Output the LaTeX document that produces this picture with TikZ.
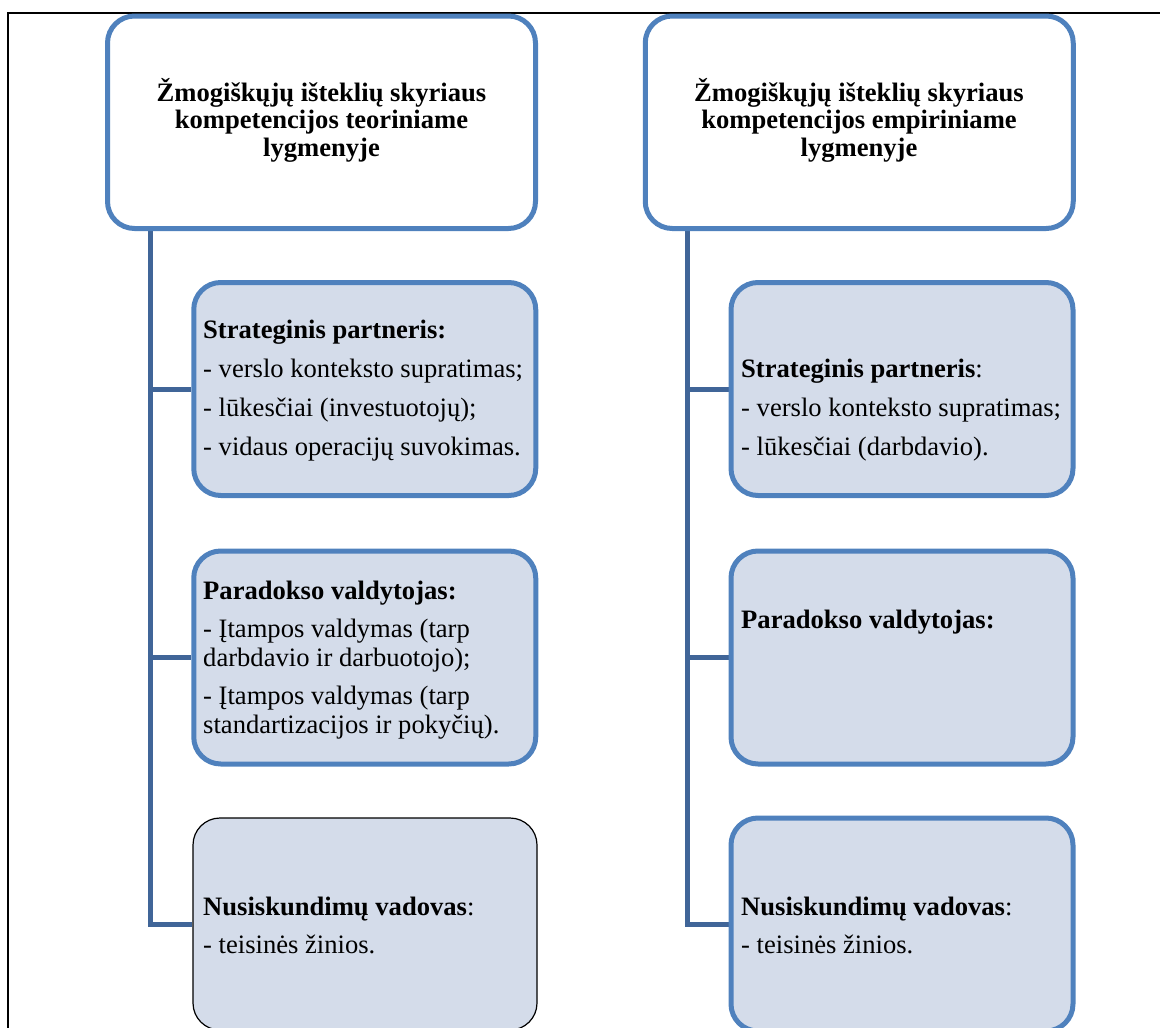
\documentclass[tikz,border=0pt]{standalone}
\usepackage{fontspec}
\setmainfont{Liberation Serif}
\usetikzlibrary{calc,backgrounds}
\definecolor{boxblue}{RGB}{79,129,189}
\definecolor{spineblue}{RGB}{64,101,152}
\definecolor{boxfill}{RGB}{212,220,234}
\tikzset{
  headbox/.style={draw=boxblue, line width=5pt, fill=white, rounded corners=27pt,
    minimum width=428pt, minimum height=212.5pt, inner sep=0pt},
  childbox/.style={draw=boxblue, line width=5pt, fill=boxfill, rounded corners=27pt,
    minimum width=342pt, minimum height=213pt, inner sep=0pt},
  childboxthin/.style={draw=black, line width=1.2pt, fill=boxfill, rounded corners=27pt,
    minimum width=344pt, minimum height=212pt, inner sep=0pt},
  spine/.style={draw=spineblue, line width=5pt, line join=miter},
  headtext/.style={font=\fontsize{26.6}{27.5}\selectfont\bfseries, align=center, anchor=base, inner sep=0pt},
  bodytext/.style={font=\fontsize{26.6}{29}\selectfont, align=left, anchor=base west, inner sep=0pt},
}
\begin{document}
\begin{tikzpicture}[x=1pt, y=-1pt]
\useasboundingbox (0,0) rectangle (1160,1028);
\clip (0,0) rectangle (1160,1028);
% frame
\draw[black, line width=1.5pt] (8,1030) -- (8,13) -- (1162,13);

% spine coordinates
\coordinate (ls) at (150.5,228.5);
\coordinate (rs) at (687,228.5);

% boxes
\node[headbox] (tl) at (321.5,122.25) {};
\node[headbox] (tr) at (859.25,122.25) {};
\node[childbox] (l1) at (364.75,389) {};
\node[childbox] (l2) at (364.75,657.5) {};
\node[childboxthin] (l3) at (365,924) {};
\node[childbox] (r1) at (902,389) {};
\node[childbox] (r2) at (902,657.5) {};
\node[childbox] (r3) at (902,924.5) {};

% connectors
\begin{scope}[on background layer]
\draw[spine] (ls) |- (l3.west);
\draw[spine] (ls |- l1.west) -- (l1.west);
\draw[spine] (ls |- l2.west) -- (l2.west);
\draw[spine] (rs) |- (r3.west);
\draw[spine] (rs |- r1.west) -- (r1.west);
\draw[spine] (rs |- r2.west) -- (r2.west);
\end{scope}

% texts (anchor = baseline of the last line)
\node[headtext] (tlt) at (321.5,156) {Žmogiškųjų išteklių skyriaus\\kompetencijos teoriniame\\lygmenyje};
\node[headtext] (trt) at (859,156) {Žmogiškųjų išteklių skyriaus\\kompetencijos empiriniame\\lygmenyje};

\node[bodytext] (l1t) at (203,455) {\textbf{Strateginis partneris:}\\[10.5pt]- verslo konteksto supratimas;\\[10pt]- lūkesčiai (investuotojų);\\[9.5pt]- vidaus operacijų suvokimas.};
\node[bodytext] (l2t) at (203,733) {\textbf{Paradokso valdytojas:}\\[9pt]- Įtampos valdymas (tarp\\darbdavio ir darbuotojo);\\[9pt]- Įtampos valdymas (tarp\\standartizacijos ir pokyčių).};
\node[bodytext] (l3t) at (203,953) {\textbf{Nusiskundimų vadovas}:\\[9pt]- teisinės žinios.};

\node[bodytext] (r1t) at (741,455) {\textbf{Strateginis partneris}:\\[10pt]- verslo konteksto supratimas;\\[9.5pt]- lūkesčiai (darbdavio).};
\node[bodytext] (r2t) at (741,628) {\textbf{Paradokso valdytojas:}};
\node[bodytext] (r3t) at (741,953) {\textbf{Nusiskundimų vadovas}:\\[9pt]- teisinės žinios.};
\end{tikzpicture}
\end{document}
